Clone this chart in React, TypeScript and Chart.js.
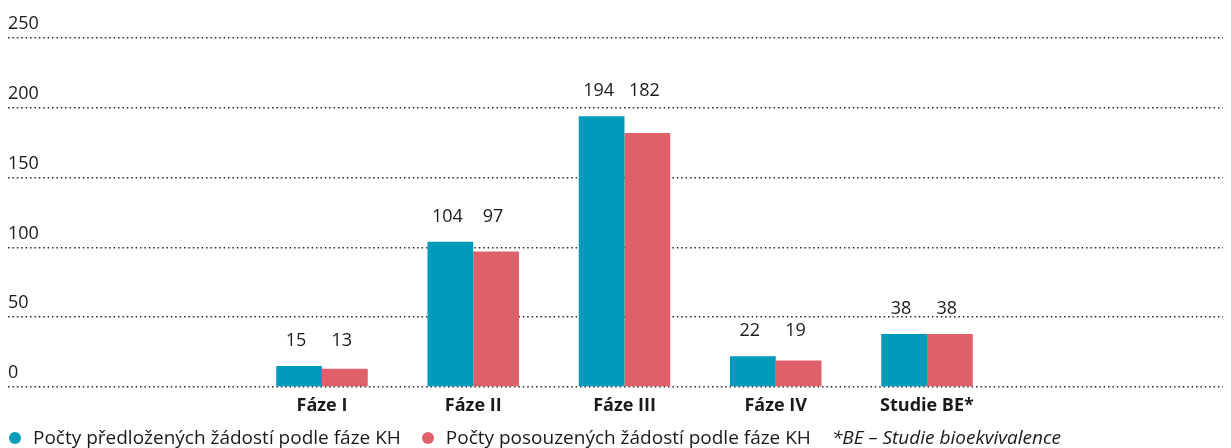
import React, { useEffect, useRef } from 'react';
import { Chart, registerables } from 'chart.js';

Chart.register(...registerables);

const categories = ['Fáze I', 'Fáze II', 'Fáze III', 'Fáze IV', 'Studie BE*'];
const submitted = [15, 104, 194, 22, 38];
const assessed = [13, 97, 182, 19, 38];
const yTicks = [0, 50, 100, 150, 200, 250];
const seriesLabels = [
  'Počty předložených žádostí podle fáze KH',
  'Počty posouzených žádostí podle fáze KH',
];
const footnote = '*BE – Studie bioekvivalence';

const BLUE = '#009bbb';
const RED = '#e0606a';
const TEXT = '#1a1a1a';
const FONT = '"Open Sans", sans-serif';

const valueLabels = {
  id: 'valueLabels',
  afterDatasetsDraw(chart: any) {
    const ctx = chart.ctx;
    const metas = chart.data.datasets.map((_: any, d: number) => chart.getDatasetMeta(d));
    ctx.save();
    ctx.font = `18px ${FONT}`;
    ctx.fillStyle = TEXT;
    ctx.textAlign = 'center';
    ctx.textBaseline = 'alphabetic';
    categories.forEach((_, i) => {
      const top = Math.min(...metas.map((m: any) => m.data[i].y));
      metas.forEach((m: any, d: number) => {
        const el = m.data[i];
        const v = chart.data.datasets[d].data[i].y;
        ctx.fillText(String(v), el.x - 3, top - 20);
      });
    });
    ctx.restore();
  },
};

export default function App() {
  const ref = useRef<HTMLCanvasElement | null>(null);

  useEffect(() => {
    document.documentElement.style.overflow = 'hidden';
    const canvas = ref.current;
    if (!canvas) return;
    const chart = new Chart(canvas, {
      type: 'bar',
      data: {
        datasets: [
          {
            label: seriesLabels[0],
            data: submitted.map((y, i) => ({ x: i, y })),
            backgroundColor: BLUE,
            borderWidth: 0,
          },
          {
            label: seriesLabels[1],
            data: assessed.map((y, i) => ({ x: i, y })),
            backgroundColor: RED,
            borderWidth: 0,
          },
        ],
      },
      options: {
        responsive: false,
        animation: false,
        events: [],
        layout: { padding: { top: 30, bottom: 1.4, left: 0, right: 0 } },
        datasets: {
          bar: { categoryPercentage: 0.605, barPercentage: 1 },
        },
        plugins: {
          legend: { display: false },
          tooltip: { enabled: false },
        },
        scales: {
          x: {
            type: 'linear',
            min: -2.076,
            max: 6.01,
            offset: false,
            afterBuildTicks: (s: any) => {
              s.ticks = categories.map((_, i) => ({ value: i }));
            },
            ticks: {
              autoSkip: false,
              maxRotation: 0,
              padding: 8.5,
              color: TEXT,
              font: { family: FONT, size: 18, weight: 'bold' },
              callback: (_v: any, i: number) => categories[i],
            },
            grid: { display: false, drawTicks: false },
            border: { display: false },
          },
          y: {
            min: 0,
            max: 250,
            afterBuildTicks: (s: any) => {
              s.ticks = yTicks.map((value) => ({ value }));
            },
            ticks: {
              mirror: true,
              padding: 0,
              labelOffset: -14,
              color: TEXT,
              font: { family: FONT, size: 18 },
            },
            grid: {
              drawTicks: false,
              color: '#2a2a2a',
              lineWidth: 1.5,
            },
            border: { display: false, dash: [1.5, 2.9] },
          },
        },
      },
      plugins: [valueLabels],
    } as any);
    return () => chart.destroy();
  }, []);

  const dot = (color: string) => (
    <span
      style={{
        display: 'inline-block',
        width: 12,
        height: 12,
        borderRadius: '50%',
        background: color,
        marginRight: 12,
        flex: 'none',
      }}
    />
  );

  return (
    <div style={{ width: 1223 }}>
      <canvas ref={ref} width={1223} height={419} style={{ display: 'block' }} />
      <div
        style={{
          display: 'flex',
          alignItems: 'center',
          height: 21,
          lineHeight: '21px',
          fontFamily: FONT,
          fontSize: 19,
          color: TEXT,
          whiteSpace: 'nowrap',
          paddingLeft: 1,
        }}
      >
        {dot(BLUE)}
        <span style={{ marginRight: 21 }}>{seriesLabels[0]}</span>
        {dot(RED)}
        <span style={{ marginRight: 21 }}>{seriesLabels[1]}</span>
        <span style={{ fontStyle: 'italic' }}>{footnote}</span>
      </div>
    </div>
  );
}
